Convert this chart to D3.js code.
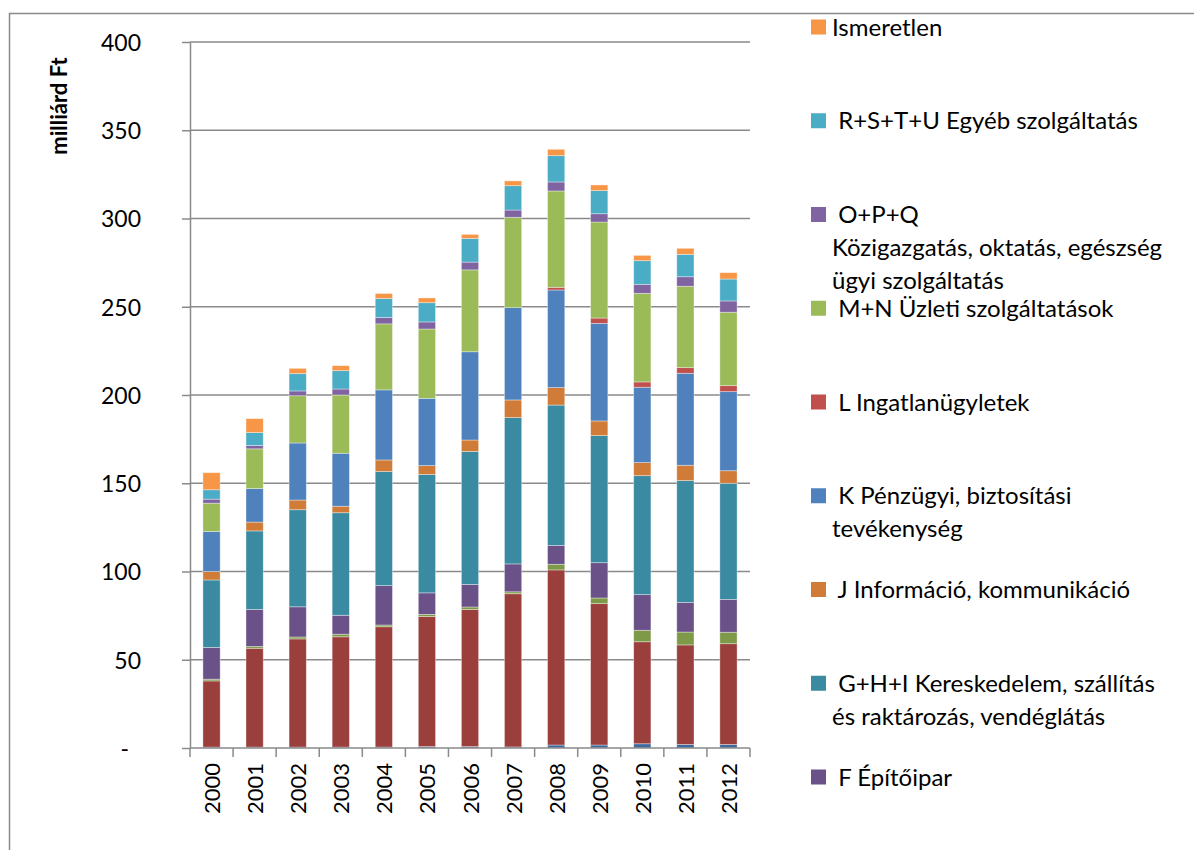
<!DOCTYPE html>
<html lang="hu">
<head>
<meta charset="utf-8">
<script src="https://cdn.jsdelivr.net/npm/d3@7"></script>
<style>
  html, body { margin: 0; padding: 0; background: #fff; }
  svg { display: block; }
  text { font-family: Lato, "Open Sans", "Noto Sans", sans-serif; fill: #000; }
  .leg text { white-space: pre; }
</style>
</head>
<body>
<svg id="chart" width="1194" height="850"></svg>
<script>
// Years on the category axis
const years = ["2000","2001","2002","2003","2004","2005","2006","2007","2008","2009","2010","2011","2012"];

// Values per branch, milliárd Ft (stacked bottom to top)
const serA    = [0.5, 0.5, 0.5, 0.5, 0.5, 0.8, 0.8, 0.6, 1.7, 1.7, 2.4, 2.0, 2.0];
const serBC   = [37.5, 56.0, 61.3, 62.5, 68.2, 73.7, 77.7, 86.8, 99.2, 80.1, 57.8, 56.4, 57.1];
const serDE   = [1.0, 1.0, 1.1, 1.5, 1.0, 1.2, 1.4, 1.1, 3.2, 3.2, 6.5, 7.3, 6.5];
const serF    = [18.0, 21.0, 17.1, 10.7, 22.3, 12.2, 12.8, 15.8, 10.7, 20.0, 20.2, 16.8, 18.6];
const serGHI  = [38.2, 44.5, 55.0, 58.1, 64.6, 67.1, 75.3, 82.9, 79.5, 72.0, 67.4, 69.0, 65.8];
const serJ    = [4.8, 5.0, 5.5, 3.7, 6.6, 5.0, 6.5, 10.0, 9.9, 8.3, 7.4, 8.7, 7.1];
const serK    = [22.7, 19.0, 32.3, 30.0, 39.7, 38.1, 50.0, 52.3, 55.3, 55.3, 42.7, 52.1, 44.8];
const serL    = [0, 0, 0, 0, 0, 0, 0, 0, 1.5, 3.0, 3.0, 3.2, 3.4];
const serMN   = [16.0, 22.5, 26.8, 33.0, 37.4, 39.3, 46.4, 51.2, 54.6, 54.4, 50.2, 46.1, 41.6];
const serOPQ  = [2.3, 1.9, 2.7, 3.4, 3.6, 4.0, 4.4, 4.1, 5.1, 4.7, 5.1, 5.4, 6.4];
const serRSTU = [5.3, 7.3, 9.8, 10.4, 10.8, 10.9, 13.4, 13.8, 14.9, 13.1, 13.4, 12.7, 12.4];
const serIsm  = [9.7, 7.9, 3.0, 2.8, 2.8, 2.7, 2.3, 2.7, 3.6, 3.2, 3.0, 3.4, 3.6];

// Series keys in stacking order
const seriesKeys = ["A", "BC", "DE", "F", "GHI", "J", "K", "L", "MN", "OPQ", "RSTU", "Ism"];
const seriesData = [serA, serBC, serDE, serF, serGHI, serJ, serK, serL, serMN, serOPQ, serRSTU, serIsm];
const seriesColors = ["#3F6A9F", "#9B3F3C", "#7E9A48", "#6A5188", "#3A8AA2", "#D07C38",
                      "#4F81BD", "#C0504D", "#9BBB59", "#8064A2", "#4BACC6", "#F79646"];

// Legend labels (top entry first), with wrapped lines
const legendKeys = ["Ism", "RSTU", "OPQ", "MN", "L", "K", "J", "GHI", "F"];
const legendLines = [
  ["Ismeretlen"],
  [" R+S+T+U Egyéb szolgáltatás"],
  [" O+P+Q", "Közigazgatás, oktatás, egészség", "ügyi szolgáltatás"],
  [" M+N Üzleti szolgáltatások"],
  [" L Ingatlanügyletek"],
  [" K Pénzügyi, biztosítási", "tevékenység"],
  [" J Információ, kommunikáció"],
  [" G+H+I Kereskedelem, szállítás", "és raktározás, vendéglátás"],
  [" F Építőipar"]
];

const yTicks = [0, 50, 100, 150, 200, 250, 300, 350, 400];
const yTitle = "milliárd Ft";

// Table for the stack generator
const rows = years.map((y, i) => {
  const r = { year: y };
  seriesKeys.forEach((k, j) => { r[k] = seriesData[j][i]; });
  return r;
});
const colorOf = Object.fromEntries(seriesKeys.map((k, j) => [k, seriesColors[j]]));

const svg = d3.select("#chart");
const gridColor = "#8a8a8a";

// Outer chart frame
svg.append("path")
  .attr("d", "M9.5,860 V13.5 H1200")
  .attr("fill", "none").attr("stroke", gridColor).attr("stroke-width", 1.5);

const plot = { left: 190, right: 750, top: 42, bottom: 748 };

const x = d3.scaleBand().domain(years)
  .range([plot.left, plot.right]).paddingInner(0.6).paddingOuter(0.3);
const y = d3.scaleLinear().domain([0, 400]).range([plot.bottom, plot.top]);

// Horizontal gridlines
svg.append("g").selectAll("line").data(yTicks.filter(t => t > 0)).join("line")
  .attr("x1", plot.left).attr("x2", plot.right)
  .attr("y1", d => y(d)).attr("y2", d => y(d))
  .attr("stroke", gridColor).attr("stroke-width", 1.5);

// Stacked bars
const stacked = d3.stack().keys(seriesKeys)(rows);
svg.append("g").selectAll("g").data(stacked).join("g")
  .attr("fill", d => colorOf[d.key])
  .selectAll("rect").data(d => d.filter(s => s[1] - s[0] > 0)).join("rect")
  .attr("x", d => x(d.data.year))
  .attr("width", x.bandwidth())
  .attr("y", d => y(d[1]))
  .attr("height", d => y(d[0]) - y(d[1]))
  .attr("stroke", "rgba(255,255,255,0.45)")
  .attr("stroke-width", 0.8);

// Y axis
const yAxis = svg.append("g").attr("transform", `translate(${plot.left},0)`)
  .call(d3.axisLeft(y).tickValues(yTicks).tickSize(8).tickSizeOuter(0)
    .tickFormat(d => d === 0 ? "-" : d));
yAxis.select(".domain").attr("stroke", gridColor).attr("stroke-width", 1.5);
yAxis.selectAll(".tick line").attr("stroke", gridColor).attr("stroke-width", 1.5);
yAxis.selectAll(".tick text")
  .attr("x", d => d === 0 ? -61 : -49)
  .attr("dy", "0.36em")
  .style("font-size", "23px").style("font-family", "Lato, sans-serif")
  .attr("fill", "#000");

// X axis with ticks on category boundaries
const step = x.step();
const boundaries = d3.range(years.length + 1).map(i => plot.left + i * step);
const xg = svg.append("g");
xg.append("line")
  .attr("x1", plot.left).attr("x2", plot.right)
  .attr("y1", plot.bottom).attr("y2", plot.bottom)
  .attr("stroke", gridColor).attr("stroke-width", 1.5);
xg.selectAll("line.tk").data(boundaries).join("line").attr("class", "tk")
  .attr("x1", d => d).attr("x2", d => d)
  .attr("y1", plot.bottom).attr("y2", plot.bottom + 9)
  .attr("stroke", gridColor).attr("stroke-width", 1.5);
xg.selectAll("text").data(years).join("text")
  .attr("transform", d => `translate(${x(d) + x.bandwidth() / 2},${plot.bottom + 15}) rotate(-90)`)
  .attr("text-anchor", "end")
  .attr("dominant-baseline", "central")
  .style("font-size", "22px")
  .text(d => d);

// Y axis title
svg.append("text")
  .attr("transform", "translate(58,106) rotate(-90)")
  .attr("text-anchor", "middle")
  .attr("dominant-baseline", "central")
  .style("font-size", "22px").style("font-weight", "bold")
  .text(yTitle);

// Legend
const leg = svg.append("g").attr("class", "leg");
legendKeys.forEach((k, i) => {
  const cy = 27 + i * 93.75;
  leg.append("rect")
    .attr("x", 811).attr("y", cy - 7.5).attr("width", 15).attr("height", 15)
    .attr("fill", colorOf[k]);
  legendLines[i].forEach((line, li) => {
    leg.append("text")
      .attr("x", 832).attr("y", cy + li * 33)
      .attr("dy", "0.36em")
      .style("font-size", "24px")
      .text(line);
  });
});
</script>
</body>
</html>
